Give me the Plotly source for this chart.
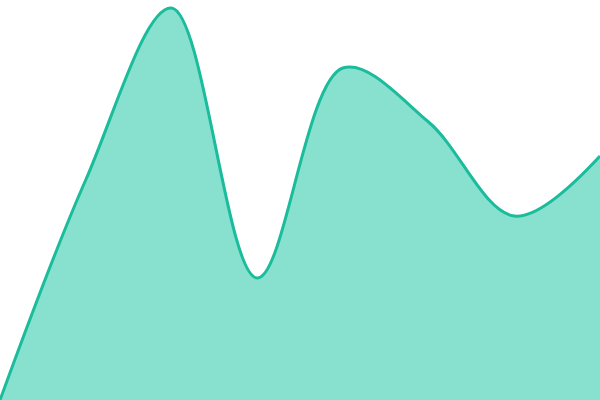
import plotly.graph_objects as go

# sample index and values (0-100 scale)
steps = [0, 1, 2, 3, 4, 5, 6, 7]
values = [0, 55, 98, 30.5, 83, 69.5, 46, 61]

fig = go.Figure(go.Scatter(
    x=steps, y=values,
    mode='lines',
    line=dict(color='#1abc9c', width=3, shape='spline', smoothing=1),
    fill='tozeroy',
    fillcolor='#88e0cf',
    hoverinfo='none'))

fig.update_layout(width=600, height=400,
                  margin=dict(l=0, r=0, t=0, b=0),
                  paper_bgcolor='white', plot_bgcolor='white',
                  showlegend=False)
fig.update_xaxes(visible=False, range=[0, 7])
fig.update_yaxes(visible=False, range=[0, 100])
# drop the browser's default body margin so the plot sits flush
fig.write_html("out.html", config={'displayModeBar': False},
               post_script="document.body.style.margin='0';")
